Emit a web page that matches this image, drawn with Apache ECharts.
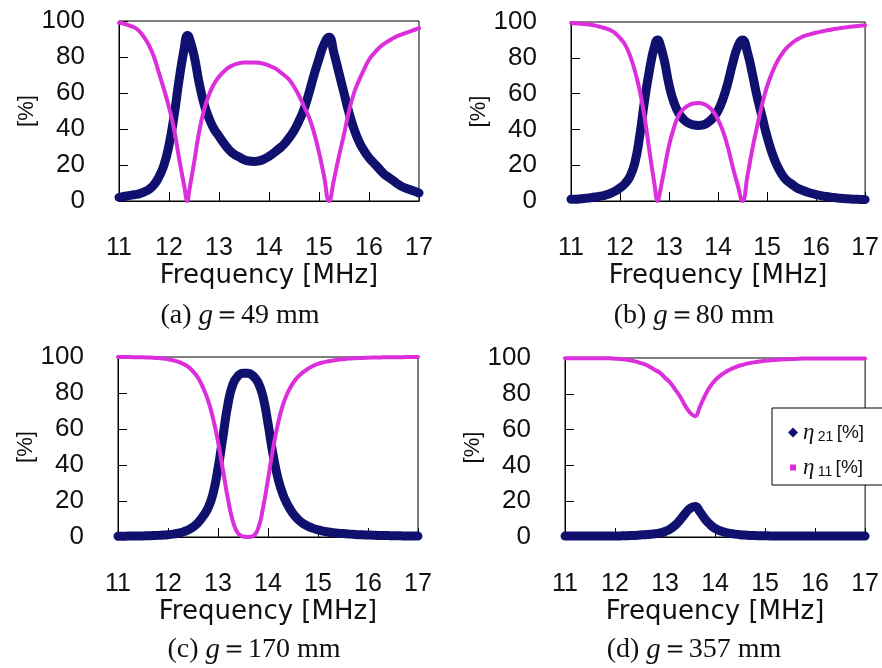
<!DOCTYPE html>
<html>
<head>
<meta charset="utf-8">
<script src="https://cdn.jsdelivr.net/npm/echarts@6/dist/echarts.min.js"></script>
<style>
  html, body { margin: 0; padding: 0; background: #fff; }
  #chart { width: 882px; height: 668px; }
</style>
</head>
<body>
<div id="chart"></div>
<script>
// Sampled frequencies [MHz] for each gap setting
const freqA = [11.0,11.1,11.2,11.3,11.4,11.5,11.6,11.7,11.8,11.9,12.0,12.1,12.2,12.3,12.37,12.4,12.5,12.6,12.7,12.8,12.9,13.0,13.1,13.2,13.3,13.4,13.5,13.6,13.7,13.8,13.9,14.0,14.1,14.2,14.3,14.4,14.5,14.6,14.7,14.8,14.9,15.0,15.1,15.2,15.3,15.4,15.5,15.6,15.7,15.8,15.9,16.0,16.1,16.2,16.3,16.4,16.5,16.6,16.7,16.8,16.9,17.0];
const freqB = [11.0,11.1,11.2,11.3,11.4,11.5,11.6,11.7,11.8,11.9,12.0,12.1,12.2,12.3,12.4,12.5,12.6,12.7,12.77,12.8,12.9,13.0,13.1,13.2,13.3,13.4,13.5,13.6,13.7,13.8,13.9,14.0,14.1,14.2,14.3,14.4,14.5,14.6,14.7,14.8,14.9,15.0,15.1,15.2,15.3,15.4,15.5,15.6,15.7,15.8,15.9,16.0,16.1,16.2,16.3,16.4,16.5,16.6,16.7,16.8,16.9,17.0];
const freqCD = [11.0,11.1,11.2,11.3,11.4,11.5,11.6,11.7,11.8,11.9,12.0,12.1,12.2,12.3,12.4,12.5,12.6,12.7,12.8,12.9,13.0,13.1,13.2,13.3,13.4,13.5,13.6,13.7,13.8,13.9,14.0,14.1,14.2,14.3,14.4,14.5,14.6,14.7,14.8,14.9,15.0,15.1,15.2,15.3,15.4,15.5,15.6,15.7,15.8,15.9,16.0,16.1,16.2,16.3,16.4,16.5,16.6,16.7,16.8,16.9,17.0];

// (a) g = 49 mm
const eta21A = [2,2.5,3,3.5,4,5,6.5,9,13.5,20,31,47,67,84,92,91,81,66,54,46,40,36,32,28.5,26,24.5,23,22.2,22,22.3,23.3,24.8,26.8,29,31.5,35,39,44.5,51,60,70,79,87,91,82,71,60,49,40,33,28,24,21,18,15,13,11,9,7.5,6.5,5.5,4.5];
const eta11A = [99,98.5,97.5,96.5,94.5,91,86.5,80,71,62,52,40,24,9,0,5,21,38,50.5,59,65,69,72,74.3,75.7,76.5,77,77,77,76.8,76.2,75.2,74,72.2,70,67.5,63.5,58.5,52.5,46.5,38,27,14,0,12,25,37,50,60,67,73,78.5,82,85,87.3,89,90.7,92,93,94,95,96];

// (b) g = 80 mm
const eta21B = [1,1,1.2,1.5,1.8,2.2,2.7,3.3,4.2,5.5,7.3,9.7,13.5,21,36,56,73,86,90,89,79,65,55,49,45.5,43.5,42.5,42.2,42.5,44,46.5,50.5,57,66,77,86,90,83,71,58,47,36,27,20,15,11.5,9.5,7.5,6.2,5.2,4.3,3.6,3,2.5,2.1,1.8,1.5,1.3,1.1,1,0.9,0.8];
const eta11B = [99.5,99.3,99,98.8,98.5,98,97.3,96.5,95.5,93.8,91,87.5,81.5,73,62,47,28,10,0,3,17,31,41,48,51.5,53.5,54.5,54.7,54.2,52.7,50,45.5,39,30,19,9,0,14,29,42,54,64,71.5,77.5,82,85.5,88,90,91.5,92.5,93.3,94,94.6,95.2,95.7,96.2,96.6,97,97.3,97.6,97.9,98.2];

// (c) g = 170 mm
const eta21C = [0.4,0.4,0.5,0.5,0.6,0.6,0.7,0.8,0.9,1.1,1.3,1.6,2.1,2.8,3.9,5.5,7.9,11.5,16,24,38,56,74,85,89.5,91,91,89.5,86,78,63,46,32.5,23.5,17.5,13,9.8,7.5,6,4.8,4,3.3,2.8,2.4,2.1,1.9,1.7,1.5,1.3,1.2,1.1,1,0.9,0.8,0.8,0.7,0.7,0.6,0.6,0.5,0.5];
const eta11C = [100,100,100,99.9,99.9,99.8,99.7,99.6,99.4,99.2,98.8,98.2,97.4,96.2,94.6,92,88.5,83,76,66,53,37,21,8.5,2,0.3,0,0.5,4.5,16,32,49,63,73.5,80.5,85.5,89,91.5,93.5,95,96.2,97,97.6,98.1,98.5,98.8,99.1,99.3,99.4,99.5,99.6,99.7,99.7,99.8,99.8,99.9,99.9,99.9,100,100,100];

// (d) g = 357 mm
const eta21D = [0.5,0.5,0.5,0.5,0.5,0.5,0.5,0.5,0.5,0.5,0.5,0.6,0.7,0.8,0.9,1.1,1.3,1.5,1.8,2.3,3.1,4.4,6.5,9.5,13,16,17,14,10,7,4.8,3.5,2.6,2,1.6,1.3,1.1,0.9,0.8,0.7,0.7,0.6,0.6,0.6,0.6,0.5,0.5,0.5,0.5,0.5,0.5,0.5,0.5,0.5,0.5,0.5,0.5,0.5,0.5,0.5,0.5];
const eta11D = [99.8,99.8,99.8,99.8,99.8,99.8,99.8,99.8,99.8,99.8,99.6,99.4,99.1,98.7,98.1,97.3,96.4,95,93.3,91.7,89,86.3,82.5,78.5,73.5,69.5,67.5,73,79,84,87.5,90,92,93.6,94.8,95.8,96.6,97.2,97.7,98.1,98.4,98.7,98.9,99.1,99.3,99.4,99.5,99.6,99.7,99.7,99.7,99.7,99.7,99.7,99.7,99.7,99.7,99.7,99.7,99.7,99.7];

const xTicks = [11, 17, 1];       // min, max, step of the frequency axis
const yTicks = [0, 100, 20];      // min, max, step of the percentage axis
const captions = [
  { tag: '(a) ', g: '49' },
  { tag: '(b) ', g: '80' },
  { tag: '(c) ', g: '170' },
  { tag: '(d) ', g: '357' }
];

const NAVY = '#10106e';
const MAGENTA = '#dc2fdc';
const INK = '#111';

const panels = [
  { freq: freqA, e21: eta21A, e11: eta11A, grid: { left: 119, top: 21, width: 300, height: 180 }, cap: [240, 316] },
  { freq: freqB, e21: eta21B, e11: eta11B, grid: { left: 571, top: 22, width: 297, height: 179 }, cap: [694, 316] },
  { freq: freqCD, e21: eta21C, e11: eta11C, grid: { left: 118, top: 357, width: 300, height: 180 }, cap: [254, 650] },
  { freq: freqCD, e21: eta21D, e11: eta11D, grid: { left: 565, top: 358, width: 304, height: 179 }, cap: [694, 650] }
];

const pairs = (xs, ys) => xs.map((x, i) => [x, ys[i]]);

const grids = [], xAxes = [], yAxes = [], series = [], graphics = [];

panels.forEach((p, i) => {
  grids.push(Object.assign({ show: true, borderColor: '#000', borderWidth: 1, backgroundColor: 'transparent' }, p.grid));

  xAxes.push({
    type: 'value', gridIndex: i,
    min: xTicks[0], max: xTicks[1], interval: xTicks[2],
    axisLine: { show: true, onZero: false, lineStyle: { color: '#000', width: 1 } },
    axisTick: { show: true, inside: true, length: 9, lineStyle: { color: '#000', width: 1 } },
    splitLine: { show: false },
    axisLabel: { margin: 35, fontSize: 25, fontFamily: 'Liberation Sans', color: INK },
    name: 'Frequency [MHz]', nameLocation: 'middle', nameGap: 62,
    nameTextStyle: { fontSize: 26, fontFamily: 'DejaVu Sans', color: INK }
  });

  yAxes.push({
    type: 'value', gridIndex: i,
    min: yTicks[0], max: yTicks[1], interval: yTicks[2],
    axisLine: { show: true, onZero: false, lineStyle: { color: '#000', width: 1 } },
    axisTick: { show: true, inside: true, length: 9, lineStyle: { color: '#000', width: 1 } },
    splitLine: { show: false },
    axisLabel: { margin: 34, fontSize: 26, fontFamily: 'Liberation Sans', color: INK, padding: [6, 0, 0, 0] },
    name: '[%]', nameLocation: 'middle', nameGap: 80,
    nameTextStyle: { fontSize: 22, fontFamily: 'Liberation Sans', color: INK }
  });

  series.push({
    name: 'η21', type: 'line', xAxisIndex: i, yAxisIndex: i,
    data: pairs(p.freq, p.e21),
    showSymbol: false, smooth: 0.5, clip: false,
    lineStyle: { color: NAVY, width: 9, cap: 'round', join: 'round' },
    itemStyle: { color: NAVY },
    z: 2
  });
  series.push({
    name: 'η11', type: 'line', xAxisIndex: i, yAxisIndex: i,
    data: pairs(p.freq, p.e11),
    showSymbol: false, smooth: 0.5, clip: false,
    lineStyle: { color: MAGENTA, width: 4, cap: 'round', join: 'round' },
    itemStyle: { color: MAGENTA },
    z: 3
  });

  // caption under each panel: "(x) g ＝NN mm" with an italic g
  const c = captions[i];
  graphics.push({
    type: 'text', x: p.cap[0], y: p.cap[1], z: 10,
    style: {
      text: '{n|' + c.tag + '}{i|g}{n|＝' + c.g + ' mm}',
      align: 'center', verticalAlign: 'middle',
      rich: {
        n: { fontFamily: 'Liberation Serif', fontSize: 28, fill: INK },
        i: { fontFamily: 'Liberation Serif', fontStyle: 'italic', fontSize: 29, fill: INK }
      }
    }
  });
});

const chart = echarts.init(document.getElementById('chart'), null, { renderer: 'canvas' });
chart.setOption({
  animation: false,
  backgroundColor: '#fff',
  grid: grids,
  xAxis: xAxes,
  yAxis: yAxes,
  series: series,
  graphic: graphics,
  legend: {
    show: true, orient: 'vertical', left: 772, top: 408, z: 10,
    backgroundColor: '#fff', borderColor: '#000', borderWidth: 1, borderRadius: 0,
    padding: [13, 40, 6, 14],
    itemWidth: 10, itemHeight: 10, itemGap: 12, itemTextGap: 13,
    selectedMode: false,
    data: [
      { name: 'η21', icon: 'diamond', itemStyle: { color: NAVY } },
      { name: 'η11', icon: 'rect', itemStyle: { color: MAGENTA, borderColor: '#fff', borderWidth: 4 } }
    ],
    formatter: name => '{e|η} {s|' + name.slice(1) + '} {u|[%]}',
    textStyle: {
      color: INK,
      rich: {
        e: { fontFamily: 'Liberation Serif', fontStyle: 'italic', fontSize: 23, lineHeight: 24 },
        s: { fontFamily: 'Liberation Sans', fontSize: 14, lineHeight: 24, padding: [9, 0, 0, 0] },
        u: { fontFamily: 'Liberation Sans', fontSize: 19, lineHeight: 24 }
      }
    }
  }
});
</script>
</body>
</html>
